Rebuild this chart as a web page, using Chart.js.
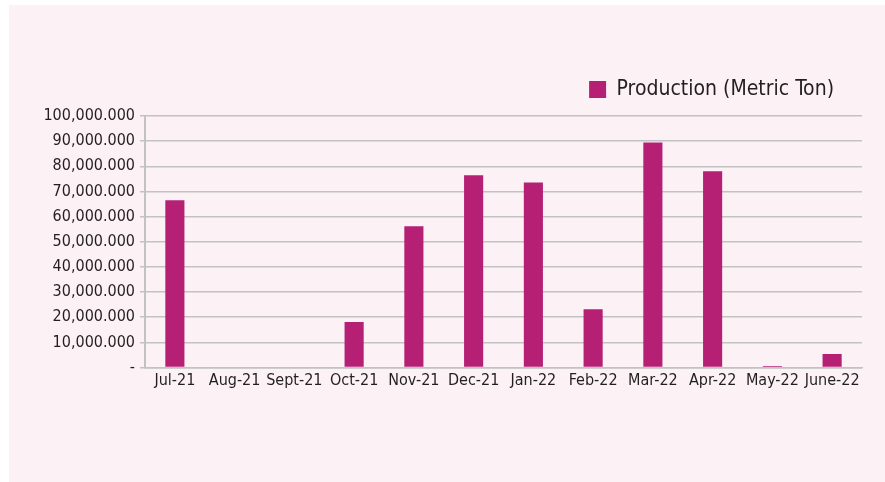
<!DOCTYPE html>
<html><head><meta charset="utf-8">
<script src="https://cdn.jsdelivr.net/npm/chart.js@4"></script>
<style>
html,body{margin:0;padding:0;background:#ffffff;}
#panel{position:absolute;left:9px;top:5px;width:876px;height:477px;background:#fcf2f6;}
#panel canvas{display:block;}
</style>
</head><body>
<div id="panel"><canvas id="c" width="876" height="477"></canvas></div>
<script>
const categories = ['Jul-21','Aug-21','Sept-21','Oct-21','Nov-21','Dec-21','Jan-22','Feb-22','Mar-22','Apr-22','May-22','June-22'];
const seriesName = 'Production (Metric Ton)';
const production = [66500000, 0, 0, 18100000, 56200000, 76400000, 73600000, 23200000, 89500000, 78000000, 600000, 5400000];
const yTickValues = [0,10000000,20000000,30000000,40000000,50000000,60000000,70000000,80000000,90000000,100000000];
const yTickLabels = ['-','10,000.000','20,000.000','30,000.000','40,000.000','50,000.000','60,000.000','70,000.000','80,000.000','90,000.000','100,000.000'];

const FONT = '"DejaVu Sans Condensed", "DejaVu Sans", sans-serif';
const TEXT = '#231f20';
const GRID = '#c2c2c2';
const BAR = '#b52074';

const chart = new Chart(document.getElementById('c'), {
  type: 'bar',
  data: {
    labels: categories,
    datasets: [{
      label: seriesName,
      data: production,
      backgroundColor: BAR,
      borderWidth: 0,
      barPercentage: 0.8,
      categoryPercentage: 0.4
    }]
  },
  options: {
    responsive: false,
    animation: false,
    layout: { padding: { left: 0, right: 23, top: 46, bottom: 0 } },
    plugins: {
      legend: {
        display: true,
        position: 'top',
        align: 'end',
        labels: {
          boxWidth: 17,
          boxHeight: 17,
          padding: 28,
          color: TEXT,
          font: { family: FONT, size: 21 }
        }
      },
      tooltip: { enabled: false }
    },
    scales: {
      x: {
        grid: { display: false, drawTicks: false },
        border: { display: true, color: GRID, width: 1.5 },
        ticks: { color: TEXT, font: { family: FONT, size: 16 }, padding: 4, maxRotation: 0, autoSkip: false },
        afterFit(scale) { scale.height = 114.5; }
      },
      y: {
        min: 0,
        max: 100000000,
        afterBuildTicks(scale) { scale.ticks = yTickValues.map(v => ({ value: v })); },
        grid: { color: GRID, lineWidth: 1.5, drawTicks: true, tickLength: 5, tickColor: GRID },
        border: { display: true, color: GRID, width: 2 },
        ticks: {
          color: TEXT,
          font: { family: FONT, size: 16 },
          padding: 5,
          callback(value) { const i = yTickValues.indexOf(value); return i >= 0 ? yTickLabels[i] : ''; }
        },
        afterFit(scale) { scale.width = 136; }
      }
    }
  }
});
// give the legend block a little more room below it, so the plot starts where the reference does
const lg = chart.legend;
const origFit = lg.fit.bind(lg);
lg.fit = function () { origFit(); this.height += 6; };
chart.update('none');
</script>
</body></html>
